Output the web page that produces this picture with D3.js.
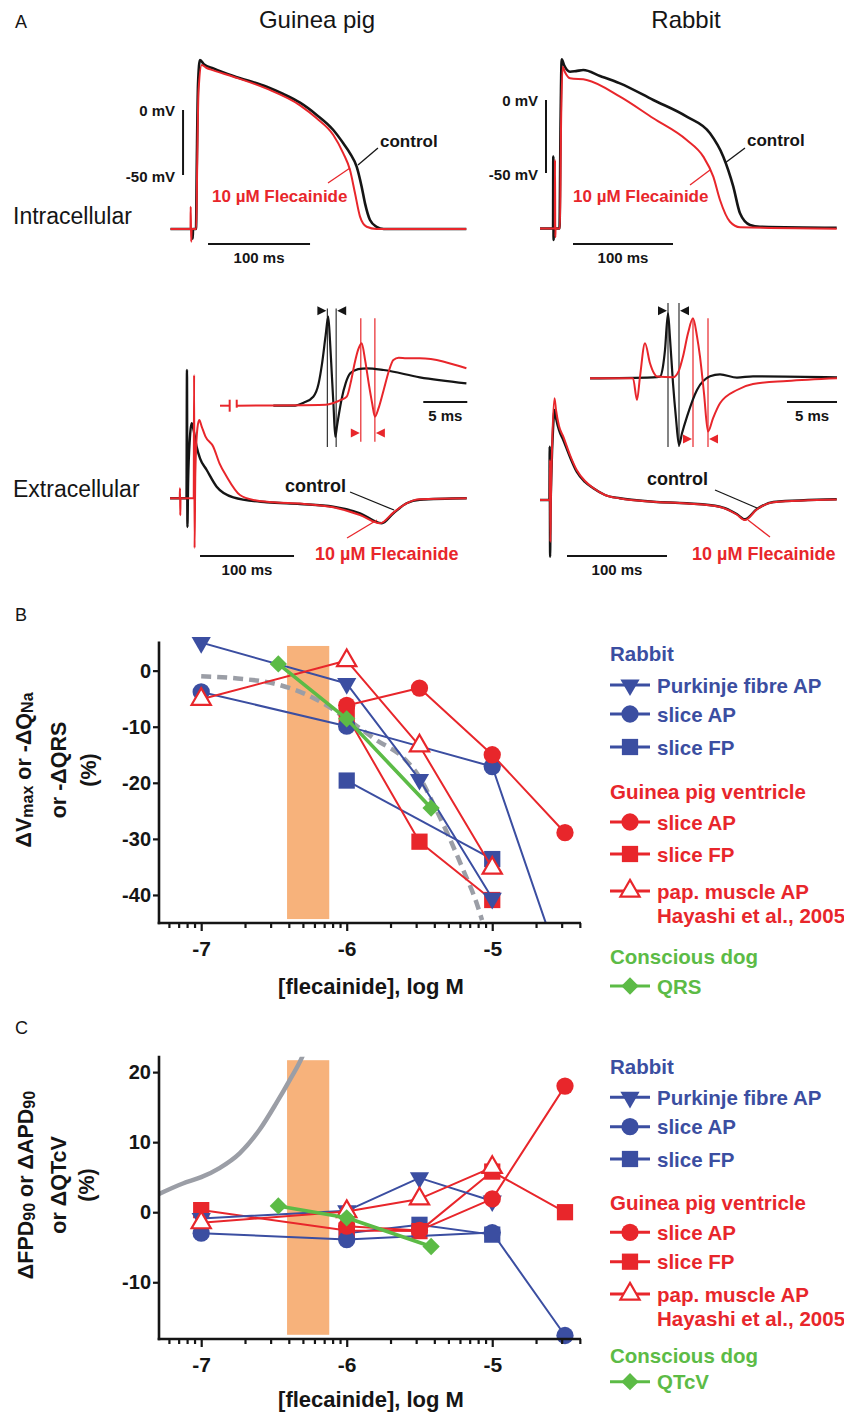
<!DOCTYPE html>
<html>
<head>
<meta charset="utf-8">
<script src="https://cdn.jsdelivr.net/npm/d3@7"></script>
<style>
  body { margin: 0; background: #fff; }
  svg { display: block; }
  text { font-family: "Liberation Sans", Arial, Helvetica, sans-serif; }
</style>
</head>
<body>
<svg id="fig" width="844" height="1414"></svg>
<script>
// ---------- panel A : action potentials [time ms, mV] ----------
var gpApControl = [[-25,-91.5],[-3.6,-91.5],[-3.3,-99],[-2.9,-91.5],[0,-91.5],[0.8,-40],[2,20],[3.9,38.5],[8,35],[17,32],[36.6,26.2],[69.3,17.9],[85.6,12.3],[102,5.6],[118.3,-3.8],[134.6,-15.4],[144.4,-25.6],[151,-33.3],[157.5,-43.6],[162.4,-59],[165.7,-71.8],[170.6,-84.6],[177,-89.8],[184,-91.5],[265,-91.5]];
var gpApFlec = [[-25,-91.5],[-5.4,-91.5],[-5.2,-74.4],[-4.7,-101.3],[-4.2,-91.5],[0.3,-91.5],[1.2,-40],[2.5,15],[5.6,34.6],[10,32.5],[17,30.5],[36.6,25.6],[69.3,16.4],[102,3.6],[118.3,-6.4],[134.6,-19.2],[144.4,-33.3],[151,-46.2],[155.9,-64.1],[160.8,-82],[167.3,-89.8],[177,-91.5],[265,-91.5]];
var rbApControl = [[-20,-88],[-6.9,-88],[-6.7,-38.8],[-6.4,-95.9],[-6.0,-88],[-0.5,-88],[0.5,-20],[1.7,27.9],[4,24],[10,19.4],[16,19.8],[23.3,20.5],[40,16.5],[60,11.4],[93.3,0],[126.7,-11.4],[150,-22.8],[163.3,-38.8],[173.3,-59.3],[180,-77.6],[190,-85.6],[200,-86.8],[276.7,-87.5]];
var rbApFlec = [[-20,-88],[-5.2,-88],[-5,-41],[-4.7,-94],[-4.4,-88],[0,-88],[1,-20],[2.7,22.8],[5,19],[10,14.9],[26.7,13.7],[60,2.3],[93.3,-12.5],[126.7,-27.4],[143.3,-38.8],[153.3,-52.5],[160,-68.5],[170,-83.4],[180,-87.2],[276.7,-88.1]];

// ---------- panel A : field potentials [time ms, µV] ----------
var gpFpControl = [[-10.6,0],[6.9,0],[7.4,1283],[7.9,-287],[8.6,150],[10.5,600],[12.4,750],[14.5,680],[17.7,516],[21.3,400],[28.4,283],[39,116],[56.7,10],[92.2,-40],[127.7,-57],[163,-84],[191.5,-150],[214.6,-250],[227,-150],[241,-50],[255,-14],[305,0]];
var gpFpFlec = [[-10.6,0],[-0.3,0],[0,100],[0.3,-170],[0.6,0],[14.6,0],[15.0,1233],[15.5,-497],[16.3,250],[18.5,700],[20.5,783],[23,720],[27,620],[35.4,516],[42,350],[49.7,216],[63.8,33],[80,-20],[100,-40],[130,-55],[163,-90],[191.5,-167],[212.8,-250],[227,-143],[241,-50],[255,-10],[305,0]];
var rbFpControl = [[-10,0],[-0.6,0],[-0.3,533],[0.1,-567],[0.6,-100],[1.5,300],[3,700],[4.5,900],[6,820],[9,700],[13.3,600],[20,430],[26.7,283],[35,180],[43.3,117],[55,50],[70,17],[103.3,-17],[136.7,-33],[170,-67],[186.7,-140],[195,-193],[206.7,-93],[223.3,-20],[286.7,7]];
var rbFpFlec = [[-10,0],[-0.3,0],[0,400],[0.4,-420],[0.9,0],[2,500],[4.5,1017],[6,900],[9,740],[13.3,633],[20,450],[26.7,300],[35,190],[43.3,120],[55,50],[70,15],[103.3,-17],[136.7,-35],[170,-70],[186.7,-145],[195,-200],[206.7,-95],[223.3,-22],[286.7,5]];

// insets, QRS detail [time ms, µV]
var gpInsetControl = [[6.06,0],[8.3,0],[9.5,30],[10.6,90],[11.2,220],[11.6,424],[12.0,700],[12.3,890],[12.5,650],[12.7,324],[12.9,0],[13.1,-310],[13.3,-200],[13.8,57],[14.3,230],[14.8,324],[15.7,365],[16.7,374],[18.6,357],[22.7,284],[28,224]];
var gpInsetFlec = [[1.9,0],[12.0,10],[12.9,27],[13.8,60],[14.4,90],[14.9,250],[15.3,424],[15.7,560],[16.1,624],[16.5,450],[16.9,224],[17.3,20],[17.6,-110],[18.0,-30],[18.6,157],[19.2,350],[19.7,457],[20.3,480],[21.2,474],[22.7,474],[28,374]];
var rbInsetControl = [[0,0],[6.3,10],[7.0,17],[7.3,120],[7.5,283],[7.8,650],[8.0,400],[8.3,-50],[8.6,-400],[8.9,-667],[9.2,-550],[9.7,-383],[10.7,-117],[12.0,20],[13.0,40],[14.7,7],[16.3,20],[24.7,10]];
var rbInsetFlec = [[0,0],[4.3,0],[4.7,-217],[5.0,17],[5.5,350],[6.0,150],[6.4,50],[6.7,17],[8.3,10],[8.9,80],[9.3,217],[9.8,450],[10.3,600],[10.7,420],[11.0,217],[11.4,-150],[11.8,-533],[12.3,-400],[13.0,-250],[14.7,-117],[16.3,-57],[19.7,-27],[24.7,0]];
// QRS width markers [start, end] ms
var gpQrsControl = [12.2, 13.2];
var gpQrsFlec = [16.0, 17.6];
var rbQrsControl = [7.8, 8.9];
var rbQrsFlec = [10.3, 11.8];

// ---------- panels B / C : [log M, % change] ----------
var logTicks = [-7, -6, -5];
var therapeuticRange = [-6.41, -6.12];

var bRbPurkinje = [[-7,5.0],[-6,-2.3],[-5.5,-19.4],[-5,-40.6]];
var bRbSliceAP = [[-7,-3.8],[-6,-9.9],[-5,-17.1],[-4.5,-55]];
var bRbSliceFP = [[-6,-19.6],[-5,-33.6]];
var bGpSliceAP = [[-6,-6.2],[-5.5,-3.1],[-5,-15.0],[-4.5,-28.9]];
var bGpSliceFP = [[-6,-8],[-5.5,-30.5],[-5,-40.9]];
var bGpPapAP = [[-7,-5.1],[-6,1.8],[-5.5,-13.4],[-5,-35.2]];
var bDogQRS = [[-6.47,1.2],[-6,-8.6],[-5.42,-24.5]];
var bCurve = [[-7,-1.0],[-6.75,-1.4],[-6.5,-2.3],[-6.3,-4.0],[-6.15,-6.0],[-6.0,-8.6],[-5.8,-12.3],[-5.6,-15.8],[-5.5,-19],[-5.4,-24],[-5.3,-29.5],[-5.2,-35.5],[-5.1,-42],[-5.07,-44.5]];
var bYTicks = [0, -10, -20, -30, -40];

var cRbPurkinje = [[-7,-0.9],[-6,0.2],[-5.5,4.9],[-5,1.6]];
var cRbSliceAP = [[-7,-3.0],[-6,-3.9],[-5,-2.9],[-4.5,-17.6]];
var cRbSliceFP = [[-6,-3.0],[-5.5,-1.8],[-5,-3.2]];
var cGpSliceAP = [[-6,-2.0],[-5.5,-2.6],[-5,1.9],[-4.5,18.0]];
var cGpSliceFP = [[-7,0.3],[-6,-2.6],[-5.5,-2.7],[-5,5.8],[-4.5,0.0]];
var cGpPapAP = [[-7,-1.5],[-6,0.1],[-5.5,1.9],[-5,6.4]];
var cDogQTcV = [[-6.47,0.9],[-6,-0.8],[-5.42,-4.9]];
var cCurve = [[-7.29,2.6],[-7.126,4.1],[-7,5.0],[-6.874,6.3],[-6.736,8.4],[-6.598,11.8],[-6.483,15.6],[-6.391,18.9],[-6.31,22.0],[-6.28,23.5]];
var cYTicks = [20, 10, 0, -10];

var RED = "#e8262b", BLACK = "#151515", BLUE = "#3b4ea1", GREEN = "#5cbb46",
    ORANGE = "#f7b27b", GREY = "#9b9ea6";
var BOLD_WIDE = "'DejaVu Sans', Verdana, sans-serif";

var svg = d3.select("#fig");

function trace(g, data, x, y, color, width, smooth) {
  var gen = d3.line().x(function(d) { return x(d[0]); }).y(function(d) { return y(d[1]); });
  if (smooth) gen.curve(d3.curveMonotoneX);
  g.append("path").datum(data)
    .attr("d", gen)
    .attr("fill", "none")
    .attr("stroke", color)
    .attr("stroke-width", width)
    .attr("stroke-linejoin", "round");
}

function label(g, x, y, txt, color, size, weight, anchor) {
  return g.append("text")
    .attr("x", x).attr("y", y)
    .attr("fill", color || BLACK)
    .attr("font-size", size + "px")
    .attr("font-weight", weight || "bold")
    .attr("text-anchor", anchor || "start")
    .text(txt);
}

// ================= panel A =================
var gA = svg.append("g");
label(gA, 15, 28, "A", BLACK, 18, "normal");
label(gA, 317, 28, "Guinea pig", BLACK, 24, "normal", "middle");
label(gA, 686, 28, "Rabbit", BLACK, 24, "normal", "middle");
label(gA, 13, 224, "Intracellular", BLACK, 23, "normal");
label(gA, 13, 497, "Extracellular", BLACK, 23, "normal");

function intracellular(cfg) {
  var x = d3.scaleLinear().domain([0, 100]).range([cfg.x0, cfg.x0 + cfg.pxPer100]);
  var y = d3.scaleLinear().domain([0, -50]).range([cfg.y0, cfg.y0 + cfg.pxPer50]);
  trace(gA, cfg.control, x, y, BLACK, 2.6, true);
  trace(gA, cfg.flec, x, y, RED, 2, true);
  // scale bars
  trace(gA, [[cfg.vBarT, 0], [cfg.vBarT, -50]], x, y, BLACK, 2);
  trace(gA, [[cfg.tBar, cfg.tBarV], [cfg.tBar + 100, cfg.tBarV]], x, y, BLACK, 2);
  label(gA, x(cfg.vBarT) - 8, y(0) + 6, "0 mV", BLACK, 15, "bold", "end");
  label(gA, x(cfg.vBarT) - 8, y(-50) + 7, "-50 mV", BLACK, 15, "bold", "end");
  label(gA, x(cfg.tBar + 50), y(cfg.tBarV) + 19, "100 ms", BLACK, 15, "bold", "middle");
  trace(gA, cfg.leadC, x, y, BLACK, 1.3);
  trace(gA, cfg.leadF, x, y, RED, 1.3);
  label(gA, cfg.ctrlXY[0], cfg.ctrlXY[1], "control", BLACK, 17);
  label(gA, cfg.flecXY[0], cfg.flecXY[1], "10 µM Flecainide", RED, 17);
}

intracellular({x0: 196, pxPer100: 102, y0: 110, pxPer50: 65,
  control: gpApControl, flec: gpApFlec, vBarT: -12.7, tBar: 11.8, tBarV: -103,
  leadC: [[158.8,-42.3],[178.4,-29.2]], leadF: [[129.4,-56.2],[151,-44.6]],
  ctrlXY: [380, 147], flecXY: [212, 202]});
intracellular({x0: 560, pxPer100: 100, y0: 100, pxPer50: 73,
  control: rbApControl, flec: rbApFlec, vBarT: -14, tBar: 13, tBarV: -98.6,
  leadC: [[165,-43.2],[185,-32.9]], leadF: [[130,-58.2],[150,-47.9]],
  ctrlXY: [747, 146], flecXY: [573, 202]});

function arrowHead(g, px, py, dir, color) {
  // dir 1: points right, tip at px ; dir -1: points left
  var w = 9, h = 4.5;
  g.append("path")
    .attr("d", "M" + px + "," + py + "L" + (px - dir * w) + "," + (py - h) + "L" + (px - dir * w) + "," + (py + h) + "Z")
    .attr("fill", color);
}

function extracellular(cfg) {
  var x = d3.scaleLinear().domain([0, 100]).range([cfg.x0, cfg.x0 + cfg.pxPer100]);
  var y = d3.scaleLinear().domain([0, 1000]).range([cfg.y0, cfg.y0 - 100]);
  trace(gA, cfg.control, x, y, BLACK, 2.4, true);
  trace(gA, cfg.flec, x, y, RED, 2, true);
  trace(gA, [[cfg.tBar, cfg.tBarV], [cfg.tBar + 100, cfg.tBarV]], x, y, BLACK, 2);
  label(gA, x(cfg.tBar + 50), y(cfg.tBarV) + 19, "100 ms", BLACK, 15, "bold", "middle");
  trace(gA, cfg.leadC, x, y, BLACK, 1.3);
  trace(gA, cfg.leadF, x, y, RED, 1.3);
  label(gA, cfg.ctrlXY[0], cfg.ctrlXY[1], "control", BLACK, 18);
  label(gA, cfg.flecXY[0], cfg.flecXY[1], "10 µM Flecainide", RED, 18);

  // inset
  var xi = d3.scaleLinear().domain([0, 5]).range([cfg.ix0, cfg.ix0 + cfg.pxPer5]);
  var yi = d3.scaleLinear().domain([0, 1000]).range([cfg.iy0, cfg.iy0 - 100]);
  cfg.qrsC.forEach(function(t) {
    trace(gA, [[t, cfg.lineC[0]], [t, cfg.lineC[1]]], xi, yi, "#333", 1.2);
  });
  cfg.qrsF.forEach(function(t) {
    trace(gA, [[t, cfg.lineF[0]], [t, cfg.lineF[1]]], xi, yi, RED, 1.2);
  });
  trace(gA, cfg.insetC, xi, yi, BLACK, 2.2, true);
  trace(gA, cfg.insetF, xi, yi, RED, 2, true);
  if (cfg.breakMark) {
    trace(gA, [[0, 0], [1.1, 0]], xi, yi, RED, 2);
    trace(gA, [[1.1, 60], [1.1, -60]], xi, yi, RED, 2);
    trace(gA, [[1.9, 60], [1.9, -20]], xi, yi, RED, 2);
  }
  arrowHead(gA, xi(cfg.qrsC[0]) - 1, yi(cfg.arrowC), 1, BLACK);
  arrowHead(gA, xi(cfg.qrsC[1]) + 1, yi(cfg.arrowC), -1, BLACK);
  arrowHead(gA, xi(cfg.qrsF[0]) - 1, yi(cfg.arrowF), 1, RED);
  arrowHead(gA, xi(cfg.qrsF[1]) + 1, yi(cfg.arrowF), -1, RED);
  trace(gA, [[cfg.iBar, cfg.iBarV], [cfg.iBar + 5, cfg.iBarV]], xi, yi, BLACK, 2);
  label(gA, xi(cfg.iBar + 2.5), yi(cfg.iBarV) + 19, "5 ms", BLACK, 15, "bold", "middle");
}

extracellular({x0: 180, pxPer100: 94, y0: 498.3, control: gpFpControl, flec: gpFpFlec,
  tBar: 21.3, tBarV: -577,
  leadC: [[180.9,63],[227.7,-117]], leadF: [[177.7,-397],[209.6,-217]],
  ctrlXY: [285, 492], flecXY: [315, 560],
  ix0: 220, pxPer5: 44, iy0: 405.7, insetC: gpInsetControl, insetF: gpInsetFlec,
  qrsC: gpQrsControl, qrsF: gpQrsFlec, lineC: [973, -413], lineF: [874, -360],
  arrowC: 950, arrowF: -273, iBar: 23.1, iBarV: 37, breakMark: true});
extracellular({x0: 550, pxPer100: 100, y0: 500, control: rbFpControl, flec: rbFpFlec,
  tBar: 17, tBarV: -560,
  leadC: [[165,100],[207,-80]], leadF: [[198,-200],[220,-370]],
  ctrlXY: [647, 485], flecXY: [692, 560],
  ix0: 590, pxPer5: 50, iy0: 378.3, insetC: rbInsetControl, insetF: rbInsetFlec,
  qrsC: rbQrsControl, qrsF: rbQrsFlec, lineC: [753, -687], lineF: [600, -687],
  arrowC: 676, arrowF: -607, iBar: 19.7, iBarV: -237, breakMark: false});

// ================= panels B and C =================
var seriesStyle = {
  rbPurkinje: {color: BLUE, symbol: "triDown", width: 2},
  rbSliceAP: {color: BLUE, symbol: "circle", width: 2},
  rbSliceFP: {color: BLUE, symbol: "square", width: 2},
  gpSliceAP: {color: RED, symbol: "circle", width: 2},
  gpSliceFP: {color: RED, symbol: "square", width: 2},
  gpPapAP: {color: RED, symbol: "triOpen", width: 2},
  dog: {color: GREEN, symbol: "diamond", width: 3.6}
};

function drawSymbol(g, kind, color, cx, cy) {
  var p;
  if (kind === "circle") {
    p = g.append("path").attr("d", d3.symbol(d3.symbolCircle, 235)()).attr("fill", color);
    p.attr("transform", "translate(" + cx + "," + cy + ")");
  } else if (kind === "square") {
    p = g.append("path").attr("d", d3.symbol(d3.symbolSquare, 264)()).attr("fill", color);
    p.attr("transform", "translate(" + cx + "," + cy + ")");
  } else if (kind === "triDown") {
    p = g.append("path").attr("d", d3.symbol(d3.symbolTriangle, 160)()).attr("fill", color);
    p.attr("transform", "translate(" + cx + "," + cy + ") rotate(180)");
  } else if (kind === "triOpen") {
    p = g.append("path").attr("d", d3.symbol(d3.symbolTriangle, 160)())
      .attr("fill", "#fff").attr("stroke", color).attr("stroke-width", 2.2);
    p.attr("transform", "translate(" + cx + "," + cy + ")");
  } else if (kind === "diamond") {
    p = g.append("path").attr("d", d3.symbol(d3.symbolSquare, 150)()).attr("fill", color);
    p.attr("transform", "translate(" + cx + "," + cy + ") rotate(45)");
  }
  return p;
}

function minorTicks(domain) {
  var out = [];
  for (var n = -8; n <= -4; n++) {
    for (var k = 2; k <= 9; k++) {
      var v = n + Math.log10(k);
      if (v >= domain[0] && v <= domain[1]) out.push(v);
    }
  }
  return out;
}

function doseChart(cfg) {
  var g = svg.append("g");
  var x = d3.scaleLinear().domain([-7.29, -4.39]).range([159, 581]);
  var y = d3.scaleLinear().domain(cfg.yDomain).range([cfg.bottom, cfg.top]);

  label(g, 15, cfg.letterY, cfg.letter, BLACK, 18, "normal");

  var clipId = "clip" + cfg.letter;
  g.append("clipPath").attr("id", clipId).append("rect")
    .attr("x", x.range()[0]).attr("y", cfg.top)
    .attr("width", x.range()[1] - x.range()[0]).attr("height", cfg.bottom - cfg.top);

  // therapeutic concentration band
  g.append("rect")
    .attr("x", x(therapeuticRange[0]))
    .attr("width", x(therapeuticRange[1]) - x(therapeuticRange[0]))
    .attr("y", y(cfg.band[1]))
    .attr("height", y(cfg.band[0]) - y(cfg.band[1]))
    .attr("fill", ORANGE);

  var lineGen = d3.line().x(function(d) { return x(d[0]); }).y(function(d) { return y(d[1]); });
  var curve = g.append("path").datum(cfg.curve)
    .attr("clip-path", "url(#" + clipId + ")")
    .attr("d", d3.line().curve(d3.curveMonotoneX).x(function(d) { return x(d[0]); }).y(function(d) { return y(d[1]); }))
    .attr("fill", "none").attr("stroke", GREY).attr("stroke-width", 4.5)
    .attr("stroke-linecap", cfg.curveDashed ? "butt" : "round");
  if (cfg.curveDashed) curve.attr("stroke-dasharray", "10,6");

  cfg.series.forEach(function(s) {
    var st = seriesStyle[s.key];
    g.append("path").datum(s.data)
      .attr("clip-path", "url(#" + clipId + ")")
      .attr("d", lineGen)
      .attr("fill", "none").attr("stroke", st.color).attr("stroke-width", st.width)
      .attr("stroke-linejoin", "round");
    s.data.filter(function(d) { return d[1] >= cfg.yDomain[0]; }).forEach(function(d) {
      drawSymbol(g, st.symbol, st.color, x(d[0]), y(d[1]));
    });
  });

  // axes
  var fmt = function(d) { return String(d); };
  var yAxis = g.append("g").attr("transform", "translate(" + x.range()[0] + ",0)")
    .call(d3.axisLeft(y).tickValues(cfg.yTicks).tickFormat(fmt).tickSize(6).tickSizeOuter(0).tickPadding(2));
  var xMinor = g.append("g").attr("transform", "translate(0," + cfg.bottom + ")")
    .call(d3.axisBottom(x).tickValues(minorTicks(x.domain())).tickFormat("").tickSize(5).tickSizeOuter(0));
  xMinor.select(".domain").remove();
  var xAxis = g.append("g").attr("transform", "translate(0," + cfg.bottom + ")")
    .call(d3.axisBottom(x).tickValues(logTicks).tickFormat(fmt).tickSize(8).tickSizeOuter(0).tickPadding(10));

  [yAxis, xAxis, xMinor].forEach(function(a) {
    a.selectAll("line").attr("stroke", BLACK).attr("stroke-width", 2.2);
    a.select(".domain").attr("stroke", BLACK).attr("stroke-width", 2.6);
  });
  yAxis.select(".domain").attr("d", "M0," + (cfg.top - 1) + "V" + (cfg.bottom + 1.3));
  xAxis.select(".domain").attr("d", "M" + (x.range()[0] - 1.3) + ",0H" + x.range()[1]);
  yAxis.selectAll("text").attr("font-family", BOLD_WIDE).attr("font-weight", "bold")
    .attr("font-size", "20px").attr("fill", BLACK);
  xAxis.selectAll("text").attr("font-family", BOLD_WIDE).attr("font-weight", "bold")
    .attr("font-size", "21px").attr("fill", BLACK);

  // axis titles
  label(g, 371, cfg.xTitleY, "[flecainide], log M", BLACK, 22, "bold", "middle");
  var yt = g.append("g").attr("transform", "translate(59," + cfg.yTitleY + ") rotate(-90)");
  cfg.yTitle.forEach(function(line, i) {
    var t = yt.append("text")
      .attr("x", 0).attr("y", line.off)
      .attr("text-anchor", "middle").attr("dominant-baseline", "central")
      .attr("font-family", BOLD_WIDE).attr("font-weight", "bold").attr("font-size", "21.5px")
      .attr("fill", BLACK);
    line.parts.forEach(function(p) {
      var ts = t.append("tspan").text(p[0]);
      if (p[1] === "sub") ts.attr("font-size", "16px").attr("baseline-shift", "-20%");
    });
  });

  // legend
  var lg = g.append("g");
  cfg.legend.forEach(function(r) {
    if (r.key) {
      var st = seriesStyle[r.key];
      lg.append("line").attr("x1", 610).attr("x2", 650).attr("y1", r.y).attr("y2", r.y)
        .attr("stroke", st.color).attr("stroke-width", 3);
      drawSymbol(lg, st.symbol, st.color, 630, r.y);
      label(lg, 657, r.y + 7.5, r.text, st.color, 20.5);
    } else {
      label(lg, r.x || 610, r.y + 7.5, r.text, r.color, 20.5);
    }
  });
}

function legendRows(ys, lastLabel) {
  return [
    {text: "Rabbit", color: BLUE, y: ys[0]},
    {key: "rbPurkinje", text: "Purkinje fibre AP", y: ys[1]},
    {key: "rbSliceAP", text: "slice AP", y: ys[2]},
    {key: "rbSliceFP", text: "slice FP", y: ys[3]},
    {text: "Guinea pig ventricle", color: RED, y: ys[4]},
    {key: "gpSliceAP", text: "slice AP", y: ys[5]},
    {key: "gpSliceFP", text: "slice FP", y: ys[6]},
    {key: "gpPapAP", text: "pap. muscle AP", y: ys[7]},
    {text: "Hayashi et al., 2005", color: RED, x: 657, y: ys[8]},
    {text: "Conscious dog", color: GREEN, y: ys[9]},
    {key: "dog", text: lastLabel, y: ys[10]}
  ];
}

doseChart({
  letter: "B", letterY: 621, yDomain: [-45, 5], top: 642.6, bottom: 923,
  band: [-44.3, 4.4], curve: bCurve, curveDashed: true, yTicks: bYTicks,
  series: [
    {key: "rbSliceFP", data: bRbSliceFP}, {key: "gpSliceFP", data: bGpSliceFP},
    {key: "rbPurkinje", data: bRbPurkinje}, {key: "rbSliceAP", data: bRbSliceAP},
    {key: "gpSliceAP", data: bGpSliceAP}, {key: "gpPapAP", data: bGpPapAP},
    {key: "dog", data: bDogQRS}
  ],
  xTitleY: 994, yTitleY: 770,
  yTitle: [
    {off: -35, parts: [["ΔV"], ["max", "sub"], [" or -ΔQ"], ["Na", "sub"]]},
    {off: 0, parts: [["or -ΔQRS"]]},
    {off: 30, parts: [["(%)"]]}
  ],
  legend: legendRows([653, 685, 714, 747, 791, 822, 854, 891, 915, 956, 986], "QRS")
});

doseChart({
  letter: "C", letterY: 1034, yDomain: [-18.1, 22.2], top: 1056.7, bottom: 1339,
  band: [-17.5, 21.7], curve: cCurve, curveDashed: false, yTicks: cYTicks,
  series: [
    {key: "rbSliceFP", data: cRbSliceFP}, {key: "gpSliceFP", data: cGpSliceFP},
    {key: "rbPurkinje", data: cRbPurkinje}, {key: "rbSliceAP", data: cRbSliceAP},
    {key: "gpSliceAP", data: cGpSliceAP}, {key: "gpPapAP", data: cGpPapAP},
    {key: "dog", data: cDogQTcV}
  ],
  xTitleY: 1407, yTitleY: 1185,
  yTitle: [
    {off: -33, parts: [["ΔFPD"], ["90", "sub"], [" or ΔAPD"], ["90", "sub"]]},
    {off: 0, parts: [["or ΔQTcV"]]},
    {off: 28, parts: [["(%)"]]}
  ],
  legend: legendRows([1066.7, 1097.3, 1126.7, 1159, 1202.3, 1232.3, 1261.7, 1294, 1318.3, 1355.7, 1381.7], "QTcV")
});
</script>
</body>
</html>
